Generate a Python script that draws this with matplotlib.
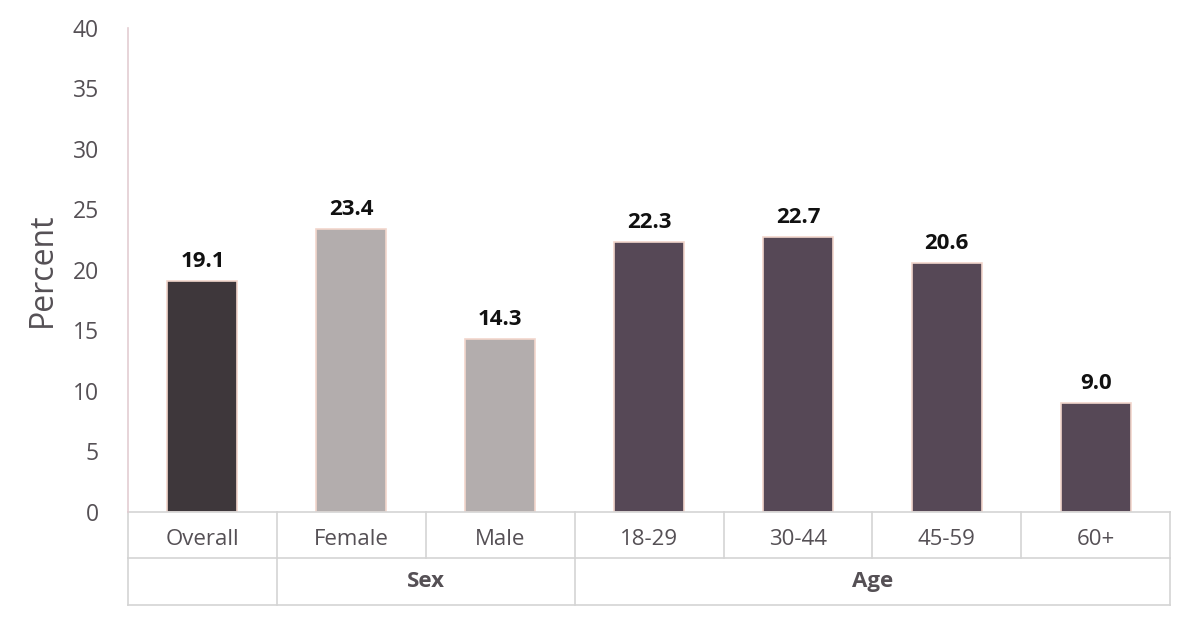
import matplotlib.pyplot as plt
import matplotlib.transforms as mtransforms

categories = ['Overall', 'Female', 'Male', '18-29', '30-44', '45-59', '60+']
values = [19.1, 23.4, 14.3, 22.3, 22.7, 20.6, 9.0]
groups = [('', 0, 0), ('Sex', 1, 2), ('Age', 3, 6)]
bar_colors = ['#3e373b', '#b3adad', '#b3adad', '#564856', '#564856', '#564856', '#564856']
y_ticks = [0, 5, 10, 15, 20, 25, 30, 35, 40]

TEXT = '#555055'
GRID = '#d4d4d4'


def main():
    plt.rcParams['font.family'] = ['Open Sans', 'DejaVu Sans']
    fig = plt.figure(figsize=(11.91, 6.19), dpi=100)
    ax = fig.add_axes([0.1075, 0.1729, 0.875, 0.782])

    x = range(len(categories))
    bars = ax.bar(x, values, width=0.47, color=bar_colors,
                  edgecolor='#f2d6cc', linewidth=1.2, zorder=2)
    for bar, v in zip(bars, values):
        ax.text(bar.get_x() + bar.get_width() / 2, v + 0.75, f'{v:.1f}',
                ha='center', va='bottom', fontsize=16, fontweight='bold', color='#111111')

    ax.set_xlim(-0.5, len(categories) - 0.5)
    ax.set_ylim(0, 40)
    ax.set_yticks(y_ticks)
    ax.tick_params(axis='y', length=0, pad=21, labelsize=16.5, labelcolor=TEXT)
    ax.set_xticks([])
    ax.set_ylabel('Percent', fontsize=23, color=TEXT, labelpad=10)

    for side in ('top', 'right', 'bottom'):
        ax.spines[side].set_visible(False)
    ax.spines['left'].set_color('#e3cdd2')
    ax.spines['left'].set_linewidth(1.2)

    # category table below the axis
    trans = mtransforms.blended_transform_factory(ax.transData, ax.transAxes)
    row1 = -0.095
    row2 = -0.192
    n = len(categories)
    lkw = dict(color=GRID, linewidth=1.2, transform=trans, clip_on=False)
    for yy in (0, row1, row2):
        ax.plot([-0.5, n - 0.5], [yy, yy], **lkw)
    for i in range(n + 1):
        ax.plot([i - 0.5, i - 0.5], [0, row1], **lkw)
    for _, start, end in groups:
        ax.plot([start - 0.5, start - 0.5], [row1, row2], **lkw)
    ax.plot([n - 0.5, n - 0.5], [row1, row2], **lkw)

    for i, cat in enumerate(categories):
        ax.text(i, row1 * 0.6, cat, ha='center', va='center', fontsize=16,
                color=TEXT, transform=trans)
    for name, start, end in groups:
        ax.text((start + end) / 2, (row1 + row2) / 2, name, ha='center', va='center',
                fontsize=16, fontweight='bold', color=TEXT, transform=trans)

    fig.savefig('out.png', dpi=100)


if __name__ == '__main__':
    main()
